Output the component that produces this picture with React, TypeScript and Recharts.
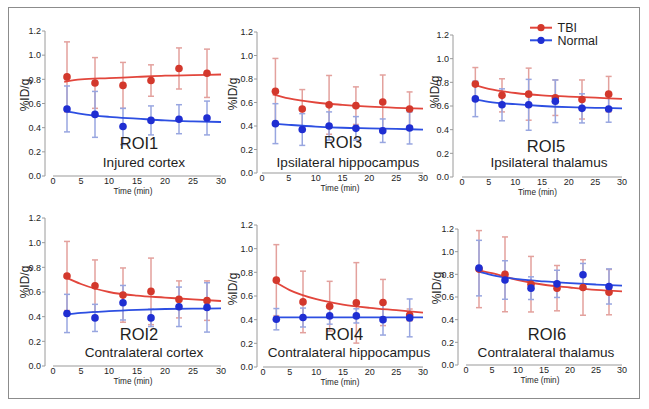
import React from 'react';
import { ComposedChart, XAxis, YAxis, Line, Scatter, ErrorBar, ReferenceLine } from 'recharts';

// ---- data ----
const times = [2.5, 7.5, 12.5, 17.5, 22.5, 27.5];
const fitTimes = [2, 5, 10, 15, 20, 25, 30];
const xTicks = [0, 5, 10, 15, 20, 25, 30];
const yTicks = [0, 0.2, 0.4, 0.6, 0.8, 1.0, 1.2];
const seriesNames = ['TBI', 'Normal'];

const roi1Tbi = [0.82, 0.77, 0.75, 0.79, 0.89, 0.85];
const roi1TbiErr = [0.29, 0.21, 0.19, 0.13, 0.17, 0.2];
const roi1Normal = [0.555, 0.51, 0.41, 0.46, 0.47, 0.48];
const roi1NormalErr = [0.19, 0.19, 0.15, 0.12, 0.12, 0.14];
const roi1TbiFit = [0.78, 0.8, 0.81, 0.82, 0.83, 0.835, 0.84];
const roi1NormalFit = [0.54, 0.515, 0.49, 0.475, 0.46, 0.452, 0.447];

const roi3Tbi = [0.695, 0.545, 0.58, 0.573, 0.604, 0.545];
const roi3TbiErr = [0.28, 0.165, 0.25, 0.16, 0.23, 0.145];
const roi3Normal = [0.42, 0.37, 0.4, 0.38, 0.36, 0.383];
const roi3NormalErr = [0.17, 0.135, 0.12, 0.1, 0.1, 0.136];
const roi3TbiFit = [0.67, 0.635, 0.6, 0.58, 0.565, 0.555, 0.548];
const roi3NormalFit = [0.42, 0.41, 0.395, 0.385, 0.38, 0.375, 0.37];

const roi5Tbi = [0.785, 0.69, 0.7, 0.67, 0.655, 0.7];
const roi5TbiErr = [0.14, 0.14, 0.22, 0.15, 0.165, 0.15];
const roi5Normal = [0.66, 0.61, 0.61, 0.64, 0.58, 0.575];
const roi5NormalErr = [0.15, 0.135, 0.215, 0.18, 0.123, 0.112];
const roi5TbiFit = [0.78, 0.745, 0.71, 0.69, 0.68, 0.67, 0.66];
const roi5NormalFit = [0.66, 0.635, 0.615, 0.6, 0.59, 0.585, 0.58];

const roi2Tbi = [0.73, 0.65, 0.575, 0.605, 0.54, 0.53];
const roi2TbiErr = [0.28, 0.21, 0.22, 0.27, 0.15, 0.16];
const roi2Normal = [0.426, 0.39, 0.513, 0.39, 0.48, 0.475];
const roi2NormalErr = [0.155, 0.11, 0.14, 0.07, 0.16, 0.2];
const roi2TbiFit = [0.725, 0.665, 0.6, 0.57, 0.555, 0.54, 0.527];
const roi2NormalFit = [0.415, 0.43, 0.445, 0.455, 0.462, 0.465, 0.467];

const roi4Tbi = [0.734, 0.55, 0.514, 0.542, 0.545, 0.44];
const roi4TbiErr = [0.3, 0.26, 0.21, 0.34, 0.195, 0.05];
const roi4Normal = [0.404, 0.418, 0.432, 0.432, 0.4, 0.415];
const roi4NormalErr = [0.09, 0.08, 0.07, 0.06, 0.13, 0.16];
const roi4TbiFit = [0.726, 0.65, 0.573, 0.528, 0.5, 0.48, 0.46];
const roi4NormalFit = [0.42, 0.42, 0.42, 0.42, 0.42, 0.42, 0.42];

const roi6Tbi = [0.846, 0.8, 0.713, 0.678, 0.684, 0.643];
const roi6TbiErr = [0.34, 0.33, 0.245, 0.2, 0.245, 0.2];
const roi6Normal = [0.855, 0.75, 0.678, 0.716, 0.796, 0.693];
const roi6NormalErr = [0.245, 0.17, 0.1, 0.12, 0.1, 0.155];
const roi6TbiFit = [0.84, 0.81, 0.75, 0.708, 0.684, 0.663, 0.65];
const roi6NormalFit = [0.83, 0.793, 0.758, 0.737, 0.722, 0.71, 0.7];

// ---- styles ----
const RED_DOT = '#d3382c';
const RED_LINE = '#e2463c';
const RED_ERR = '#e3a19d';
const BLUE_DOT = '#1f2ed2';
const BLUE_LINE = '#2d4fe2';
const BLUE_ERR = '#98a6e0';
const AXIS = '#9a9a9a';
const TEXT = '#1e1e1e';
const FONT = '"Liberation Sans", Arial, Helvetica, sans-serif';

const pts = (ys: number[], es: number[]) => times.map((x, i) => ({ x, y: ys[i], e: es[i] }));
const fit = (ys: number[]) => fitTimes.map((x, i) => ({ x, y: ys[i] }));

type Geo = { yAxisX: number; x0: number; x30: number; yTop: number; yBot: number };

const panels = [
  { title: 'ROI1', name: 'Injured cortex', tbi: pts(roi1Tbi, roi1TbiErr), normal: pts(roi1Normal, roi1NormalErr), tbiFit: fit(roi1TbiFit), normalFit: fit(roi1NormalFit),
    geo: { yAxisX: 45, x0: 53, x30: 221, yTop: 31, yBot: 176 }, titleXY: [139, 149], nameXY: [144, 167], ylab: [29, 95] },
  { title: 'ROI3', name: 'Ipsilateral hippocampus', tbi: pts(roi3Tbi, roi3TbiErr), normal: pts(roi3Normal, roi3NormalErr), tbiFit: fit(roi3TbiFit), normalFit: fit(roi3NormalFit),
    geo: { yAxisX: 257, x0: 262, x30: 423, yTop: 32, yBot: 173 }, titleXY: [343, 148], nameXY: [348, 167], ylab: [237, 94] },
  { title: 'ROI5', name: 'Ipsilateral thalamus', tbi: pts(roi5Tbi, roi5TbiErr), normal: pts(roi5Normal, roi5NormalErr), tbiFit: fit(roi5TbiFit), normalFit: fit(roi5NormalFit),
    geo: { yAxisX: 453, x0: 462, x30: 622, yTop: 35, yBot: 177 }, titleXY: [546, 152], nameXY: [549, 167], ylab: [439, 92] },
  { title: 'ROI2', name: 'Contralateral cortex', tbi: pts(roi2Tbi, roi2TbiErr), normal: pts(roi2Normal, roi2NormalErr), tbiFit: fit(roi2TbiFit), normalFit: fit(roi2NormalFit),
    geo: { yAxisX: 45, x0: 53, x30: 221, yTop: 218, yBot: 366 }, titleXY: [139, 340], nameXY: [144, 357], ylab: [29, 282] },
  { title: 'ROI4', name: 'Contralateral hippocampus', tbi: pts(roi4Tbi, roi4TbiErr), normal: pts(roi4Normal, roi4NormalErr), tbiFit: fit(roi4TbiFit), normalFit: fit(roi4NormalFit),
    geo: { yAxisX: 257, x0: 263, x30: 423, yTop: 225, yBot: 367 }, titleXY: [344, 340], nameXY: [349, 357], ylab: [237, 289] },
  { title: 'ROI6', name: 'Contralateral thalamus', tbi: pts(roi6Tbi, roi6TbiErr), normal: pts(roi6Normal, roi6NormalErr), tbiFit: fit(roi6TbiFit), normalFit: fit(roi6NormalFit),
    geo: { yAxisX: 458, x0: 466, x30: 622, yTop: 229, yBot: 365 }, titleXY: [547, 340], nameXY: [546, 357], ylab: [441, 288] },
];

const dot = (color: string) => (props: any) => <circle cx={props.cx} cy={props.cy} r={3.8} fill={color} />;

function Panel({ p }: { p: (typeof panels)[number] }) {
  const g: Geo = p.geo;
  const yAxisW = 30, mt = 10, mr = 6, xh = 22;
  const left = g.yAxisX - yAxisW;
  const top = g.yTop - mt;
  const width = g.x30 - g.yAxisX + yAxisW + mr;
  const height = g.yBot - g.yTop + mt + xh;
  return (
    <div style={{ position: 'absolute', left, top }}>
      <ComposedChart width={width} height={height} margin={{ top: mt, right: mr, left: 0, bottom: 0 }}>
        <XAxis type="number" dataKey="x" domain={[0, 30]} ticks={xTicks} padding={{ left: g.x0 - g.yAxisX, right: 0 }}
          axisLine={false} tickLine={false} tickSize={2} tickMargin={0} height={xh} interval={0}
          tick={{ fontSize: 9, fill: TEXT }}
          label={{ value: 'Time (min)', position: 'insideBottom', offset: 4, fontSize: 8.2, fill: TEXT }} />
        <YAxis type="number" dataKey="y" domain={[0, 1.2]} ticks={yTicks} width={yAxisW} interval={0}
          tickFormatter={(v: number) => v.toFixed(1)} axisLine={{ stroke: AXIS }} tickLine={{ stroke: AXIS }}
          tickSize={3} tickMargin={1} tick={{ fontSize: 9, fill: TEXT }} />
        <ReferenceLine segment={[{ x: 0, y: 0 }, { x: 30, y: 0 }]} stroke={AXIS} strokeWidth={1.2} />
        <Scatter data={p.tbi} dataKey="y" shape={() => null} isAnimationActive={false} legendType="none">
          <ErrorBar dataKey="e" direction="y" width={3} stroke={RED_ERR} strokeWidth={1.5} />
        </Scatter>
        <Scatter data={p.normal} dataKey="y" shape={() => null} isAnimationActive={false} legendType="none">
          <ErrorBar dataKey="e" direction="y" width={3} stroke={BLUE_ERR} strokeWidth={1.5} />
        </Scatter>
        <Line data={p.tbiFit} dataKey="y" type="monotone" stroke={RED_LINE} strokeWidth={1.8} dot={false} isAnimationActive={false} name={seriesNames[0]} />
        <Line data={p.normalFit} dataKey="y" type="monotone" stroke={BLUE_LINE} strokeWidth={1.8} dot={false} isAnimationActive={false} name={seriesNames[1]} />
        <Scatter data={p.tbi} dataKey="y" shape={dot(RED_DOT)} isAnimationActive={false} name={seriesNames[0]} />
        <Scatter data={p.normal} dataKey="y" shape={dot(BLUE_DOT)} isAnimationActive={false} name={seriesNames[1]} />
      </ComposedChart>
    </div>
  );
}

export default function App() {
  return (
    <div style={{ position: 'absolute', left: 0, top: 0, width: 649, height: 409, background: '#fff', fontFamily: FONT }}>
      <div style={{ position: 'absolute', left: 8, top: 7, width: 630, height: 390, border: '1.5px solid #8c8c8c' }} />
      {panels.map((p) => <Panel key={p.title} p={p} />)}
      <svg width={649} height={409} style={{ position: 'absolute', left: 0, top: 0, pointerEvents: 'none' }}>
        {panels.map((p) => (
          <g key={p.title} fontFamily={FONT} fill={TEXT}>
            <text x={p.titleXY[0]} y={p.titleXY[1]} textAnchor="middle" fontSize={16.5}>{p.title}</text>
            <text x={p.nameXY[0]} y={p.nameXY[1]} textAnchor="middle" fontSize={13.6}>{p.name}</text>
            <text x={p.ylab[0]} y={p.ylab[1]} textAnchor="middle" fontSize={12} transform={`rotate(-90, ${p.ylab[0]}, ${p.ylab[1]})`}>%ID/g</text>
          </g>
        ))}
        <g fontFamily={FONT}>
          <line x1={530} x2={552} y1={27.7} y2={27.7} stroke={RED_LINE} strokeWidth={2} />
          <circle cx={541} cy={27.7} r={3.6} fill={RED_DOT} />
          <text x={557.5} y={31.8} fontSize={12.5} fill={TEXT}>{seriesNames[0]}</text>
          <line x1={530} x2={552} y1={40.3} y2={40.3} stroke={BLUE_LINE} strokeWidth={2} />
          <circle cx={541} cy={40.3} r={3.6} fill={BLUE_DOT} />
          <text x={557.5} y={44.8} fontSize={12.5} fill={TEXT}>{seriesNames[1]}</text>
        </g>
      </svg>
    </div>
  );
}
